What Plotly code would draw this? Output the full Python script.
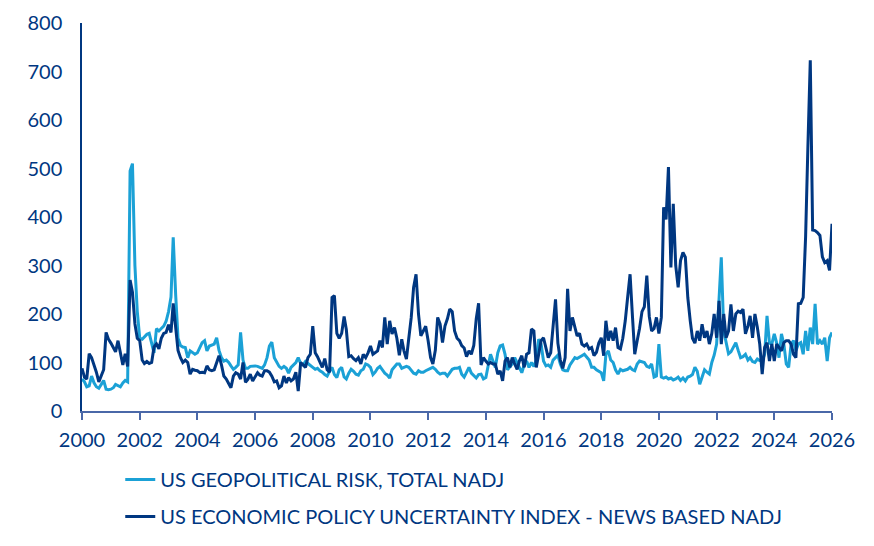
import pandas as pd
import plotly.graph_objects as go

# Monthly values, Jan 2000 .. Jan 2026 (one row per year)
gpr = [
    66, 60, 50, 52, 72, 58, 50, 47, 55, 63, 45, 44,        # 2000
    45, 48, 55, 52, 50, 58, 63, 60, 495, 510, 300, 205,    # 2001
    150, 148, 152, 158, 160, 140, 120, 170, 165, 170, 175, 185,  # 2002
    205, 235, 358, 240, 150, 135, 132, 131, 110, 124, 120, 117,  # 2003
    120, 131, 141, 145, 124, 134, 136, 138, 151, 125, 110, 103,  # 2004
    105, 100, 93, 86, 90, 95, 162, 105, 88, 88, 92, 93,    # 2005
    93, 92, 90, 88, 95, 110, 134, 142, 110, 100, 92, 88,   # 2006
    92, 88, 78, 90, 95, 100, 110, 98, 95, 102, 98, 93,     # 2007
    90, 86, 88, 83, 80, 75, 72, 82, 90, 75, 69, 85,        # 2008
    90, 70, 66, 78, 86, 82, 76, 74, 83, 86, 97, 95,        # 2009
    90, 75, 80, 88, 92, 85, 78, 74, 68, 85, 92, 97,        # 2010
    97, 88, 90, 92, 90, 85, 78, 76, 83, 80, 80, 83,        # 2011
    86, 88, 90, 86, 80, 76, 78, 78, 72, 80, 86, 88,        # 2012
    88, 90, 76, 70, 80, 90, 78, 72, 68, 75, 76, 66,        # 2013
    69, 95, 117, 103, 90, 120, 134, 136, 117, 85, 90, 97,  # 2014
    110, 100, 88, 79, 95, 103, 90, 100, 92, 105, 148, 138,  # 2015
    103, 93, 95, 90, 105, 110, 115, 97, 85, 83, 83, 95,    # 2016
    103, 110, 108, 112, 114, 117, 112, 105, 90, 90, 85, 82,  # 2017
    79, 62, 117, 124, 105, 100, 85, 76, 86, 83, 85, 86,    # 2018
    90, 85, 83, 97, 103, 102, 100, 92, 90, 97, 70, 72,     # 2019
    138, 70, 68, 70, 66, 68, 64, 66, 70, 63, 68, 62,       # 2020
    70, 72, 75, 90, 82, 55, 68, 85, 80, 76, 100, 115,      # 2021
    138, 220, 317, 165, 140, 118, 122, 131, 141, 125, 110, 112,  # 2022
    117, 105, 110, 102, 100, 107, 104, 103, 117, 196, 140, 138,  # 2023
    159, 140, 110, 159, 138, 97, 90, 138, 145, 124, 138, 141,    # 2024
    117, 165, 124, 172, 138, 221, 138, 145, 138, 151, 103, 151,  # 2025
    162,                                                    # 2026
]

epu = [
    88, 70, 66, 118, 110, 95, 80, 60, 75, 85, 162, 148,    # 2000
    140, 130, 122, 145, 120, 95, 118, 92, 270, 245, 180, 150,  # 2001
    145, 105, 98, 102, 98, 100, 132, 138, 128, 150, 160, 162,  # 2002
    178, 162, 222, 165, 125, 110, 100, 105, 100, 76, 86, 84,   # 2003
    83, 79, 80, 79, 93, 85, 83, 85, 100, 114, 95, 72,      # 2004
    66, 55, 48, 72, 79, 76, 66, 100, 59, 65, 76, 62,       # 2005
    72, 79, 74, 72, 83, 83, 80, 72, 60, 62, 48, 52,        # 2006
    72, 58, 69, 62, 66, 80, 41, 100, 95, 90, 110, 117,     # 2007
    175, 120, 112, 100, 90, 108, 85, 80, 234, 238, 160, 150,  # 2008
    160, 195, 168, 112, 114, 108, 104, 110, 97, 117, 110, 120,  # 2009
    134, 117, 121, 124, 145, 131, 193, 138, 186, 159, 172, 150,  # 2010
    115, 148, 124, 107, 150, 193, 255, 282, 200, 155, 165, 175,  # 2011
    145, 110, 97, 125, 193, 179, 141, 175, 190, 210, 205, 165,   # 2012
    150, 145, 135, 130, 112, 124, 117, 135, 190, 222, 95, 110,   # 2013
    103, 97, 100, 97, 97, 76, 83, 62, 103, 110, 90, 110,   # 2014
    97, 86, 103, 114, 90, 117, 120, 169, 165, 90, 117, 145,  # 2015
    151, 131, 110, 120, 172, 230, 140, 105, 88, 110, 252, 165,  # 2016
    193, 175, 155, 160, 138, 134, 138, 128, 131, 114, 121, 140,  # 2017
    151, 114, 186, 145, 165, 145, 172, 131, 128, 150, 186, 234,  # 2018
    282, 193, 117, 145, 170, 205, 215, 279, 195, 165, 170, 193,  # 2019
    160, 193, 420, 395, 503, 296, 427, 300, 255, 310, 327, 317,  # 2020
    234, 186, 150, 140, 165, 145, 179, 151, 165, 138, 160, 200,  # 2021
    151, 227, 138, 200, 151, 165, 220, 165, 200, 206, 203, 210,  # 2022
    159, 175, 196, 151, 200, 172, 138, 76, 131, 141, 103, 138,   # 2023
    103, 138, 130, 124, 141, 145, 145, 138, 117, 110, 221, 222,  # 2024
    234, 360, 540, 723, 373, 372, 368, 362, 318, 306, 310, 290,  # 2025
    386,                                                    # 2026
]

dates = pd.date_range("2000-01-01", periods=len(gpr), freq="MS")

LIGHT = "#1ba1d6"
DARK = "#003781"
FONT = "Lato"

fig = go.Figure()
fig.add_trace(go.Scatter(x=dates, y=gpr, mode="lines", name="US GEOPOLITICAL RISK, TOTAL NADJ",
                         line=dict(color=LIGHT, width=3), legendgroup="a"))
fig.add_trace(go.Scatter(x=dates, y=epu, mode="lines",
                         name="US ECONOMIC POLICY UNCERTAINTY INDEX - NEWS BASED NADJ",
                         line=dict(color=DARK, width=3), legendgroup="b"))

# page body has an 8px margin, so the figure is a bit smaller than the window
fig.update_layout(
    width=866, height=538,
    margin=dict(l=74, r=42, t=15, b=135, autoexpand=False),
    plot_bgcolor="white", paper_bgcolor="white",
    font=dict(family=FONT, size=20, color=DARK),
    showlegend=True,
    legend=dict(orientation="v", x=0.051, xanchor="left", y=-0.1265, yanchor="top",
                font=dict(size=20, color=DARK), tracegroupgap=8, traceorder="grouped"),
)
fig.update_xaxes(
    type="date", range=["2000-01-01", "2026-01-01"], dtick="M24", tickformat="%Y",
    showline=True, linecolor="#4a68a8", linewidth=1.5, ticks="outside", ticklen=7,
    tickcolor="#4a68a8", tickwidth=1.5, showgrid=False, zeroline=False,
    ticklabelstandoff=3, automargin=False,
)
fig.update_yaxes(
    range=[0, 800], dtick=100, showline=True, linecolor=DARK, linewidth=1.5,
    showgrid=False, zeroline=False, ticks="", ticklabelstandoff=14, automargin=False,
)

fig.write_html("out.html")
